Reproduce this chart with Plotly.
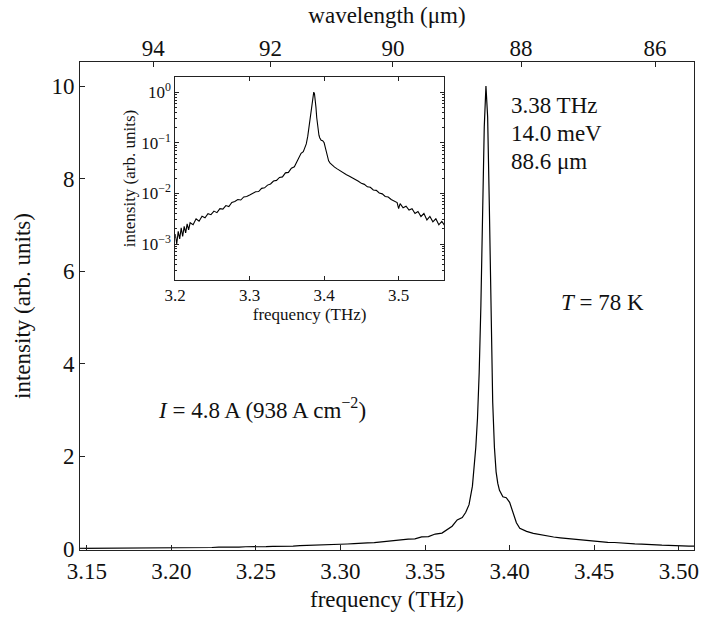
import plotly.graph_objects as go

# ---------------- data ----------------
freq = [
    3.146, 3.150, 3.154, 3.158, 3.162, 3.166, 3.170, 3.174, 3.178, 3.182,
    3.186, 3.190, 3.194, 3.198, 3.200, 3.202, 3.204, 3.206, 3.208, 3.210,
    3.212, 3.214, 3.216, 3.218, 3.220, 3.224, 3.228, 3.232, 3.236, 3.240,
    3.244, 3.248, 3.252, 3.256, 3.260, 3.264, 3.268, 3.272, 3.276, 3.280,
    3.284, 3.288, 3.292, 3.296, 3.300, 3.304, 3.308, 3.312, 3.316, 3.320,
    3.324, 3.328, 3.332, 3.336, 3.340, 3.344, 3.348, 3.352, 3.356, 3.360,
    3.363, 3.366, 3.369, 3.372, 3.374, 3.376, 3.378, 3.380, 3.381, 3.382,
    3.383, 3.384, 3.385, 3.386, 3.387, 3.388, 3.389, 3.390, 3.391, 3.392,
    3.393, 3.394, 3.396, 3.398, 3.400, 3.402, 3.404, 3.406, 3.408, 3.410,
    3.414, 3.418, 3.422, 3.426, 3.430, 3.434, 3.438, 3.442, 3.446, 3.450,
    3.454, 3.458, 3.462, 3.466, 3.470, 3.474, 3.478, 3.482, 3.486, 3.490,
    3.494, 3.498, 3.500, 3.502, 3.506, 3.510, 3.514, 3.518, 3.522, 3.526,
    3.530, 3.534, 3.538, 3.542, 3.546, 3.550, 3.554, 3.558, 3.562,
]
intensity = [
    0.0045, 0.0050, 0.0063, 0.0056, 0.0071, 0.0066, 0.0079, 0.0076, 0.0089, 0.0083,
    0.0105, 0.0095, 0.0120, 0.0112, 0.0158, 0.0100, 0.0178, 0.0126, 0.0209, 0.0141,
    0.0224, 0.0166, 0.0251, 0.0191, 0.0263, 0.0240, 0.0316, 0.0282, 0.0355, 0.0331,
    0.0398, 0.0380, 0.0447, 0.0417, 0.0501, 0.0490, 0.0575, 0.0550, 0.0661, 0.0692,
    0.0759, 0.0741, 0.0851, 0.0871, 0.0933, 0.100, 0.108, 0.109, 0.126, 0.129,
    0.146, 0.154, 0.176, 0.181, 0.207, 0.212, 0.255, 0.260, 0.315, 0.335,
    0.415, 0.485, 0.620, 0.670, 0.780, 0.950, 1.35, 2.19, 2.82, 3.80,
    5.25, 7.24, 9.12, 10.0, 9.33, 7.41, 5.01, 3.16, 2.19, 1.66,
    1.41, 1.26, 1.12, 1.10, 1.00, 0.760, 0.560, 0.440, 0.398, 0.372,
    0.331, 0.302, 0.275, 0.251, 0.234, 0.219, 0.204, 0.186, 0.174, 0.158,
    0.151, 0.135, 0.132, 0.117, 0.115, 0.102, 0.098, 0.087, 0.085, 0.076,
    0.072, 0.066, 0.050, 0.063, 0.052, 0.056, 0.047, 0.050, 0.040, 0.044,
    0.035, 0.040, 0.030, 0.035, 0.0275, 0.0316, 0.024, 0.028, 0.023,
]

main_xticks = [3.15, 3.20, 3.25, 3.30, 3.35, 3.40, 3.45, 3.50]
main_yticks = [0, 2, 4, 6, 8, 10]
wavelength_ticks = [94, 92, 90, 88, 86]           # micrometres
inset_xticks = [3.2, 3.3, 3.4, 3.5]
inset_yticks = [1e-3, 1e-2, 1e-1, 1]
inset_yticktext = ["10<sup>\u22123</sup>", "10<sup>\u22122</sup>",
                   "10<sup>\u22121</sup>", "10<sup>0</sup>"]

C_UM_THZ = 299.792458  # speed of light in um*THz
peak = max(intensity)
inset_intensity = [v / peak for v in intensity]

FONT = "Liberation Serif, Times New Roman, Times, serif"
AX = "#222222"
BIG = 23
SMALL = 17

fig = go.Figure()
fig.add_trace(go.Scatter(x=freq, y=intensity, mode="lines",
                         line=dict(color="black", width=1.2),
                         xaxis="x", yaxis="y", showlegend=False, hoverinfo="skip"))
# invisible trace so the top wavelength axis is drawn
fig.add_trace(go.Scatter(x=[freq[0]], y=[intensity[0]], mode="lines",
                         line=dict(color="rgba(0,0,0,0)"),
                         xaxis="x3", yaxis="y", showlegend=False, hoverinfo="skip"))
fig.add_trace(go.Scatter(x=freq, y=inset_intensity, mode="lines",
                         line=dict(color="black", width=1.1),
                         xaxis="x2", yaxis="y2", showlegend=False, hoverinfo="skip"))

common = dict(showgrid=False, zeroline=False, showline=True, linecolor=AX,
              linewidth=1, tickcolor=AX, ticks="inside")

fig.update_layout(
    width=706, height=620,
    margin=dict(l=80, r=7, t=62, b=70),
    paper_bgcolor="white", plot_bgcolor="white",
    font=dict(family=FONT, color="#111111", size=BIG),
    xaxis=dict(**common, domain=[0, 1], anchor="y", range=[3.146, 3.509],
               tickmode="array", tickvals=main_xticks,
               ticktext=[f"{t:.2f}" for t in main_xticks],
               ticklen=5, mirror=True,
               tickfont=dict(size=BIG, family=FONT),
               title=dict(text="frequency (THz)", font=dict(size=BIG, family=FONT),
                          standoff=8)),
    yaxis=dict(**common, domain=[0, 1], anchor="x", range=[-0.03, 10.52],
               tickmode="array", tickvals=main_yticks,
               ticktext=[str(t) for t in main_yticks],
               ticklen=5, mirror=True,
               tickfont=dict(size=BIG, family=FONT),
               title=dict(text="intensity (arb. units)", font=dict(size=BIG, family=FONT),
                          standoff=14)),
    xaxis3=dict(showgrid=False, zeroline=False, showline=False,
                overlaying="x", side="top", anchor="y", range=[3.146, 3.509],
                tickmode="array",
                tickvals=[C_UM_THZ / w for w in wavelength_ticks],
                ticktext=[str(w) for w in wavelength_ticks],
                ticks="inside", ticklen=5, tickcolor=AX,
                tickfont=dict(size=BIG, family=FONT),
                title=dict(text="wavelength (\u03bcm)", font=dict(size=BIG, family=FONT),
                           standoff=6)),
    xaxis2=dict(**common, domain=[0.1551, 0.5929], anchor="y2", range=[3.2, 3.561],
                tickmode="array", tickvals=inset_xticks,
                ticktext=[f"{t:.1f}" for t in inset_xticks],
                ticklen=4, mirror="ticks",
                tickfont=dict(size=SMALL, family=FONT),
                title=dict(text="frequency (THz)", font=dict(size=SMALL, family=FONT),
                           standoff=2)),
    yaxis2=dict(**common, domain=[0.5533, 0.9693], anchor="x2", type="log",
                range=[-3.71, 0.30],
                tickmode="array", tickvals=inset_yticks, ticktext=inset_yticktext,
                ticklen=4, mirror="ticks",
                minor=dict(ticks="inside", ticklen=2, tickcolor=AX, showgrid=False,
                           tickmode="array",
                           tickvals=[m * 10 ** e for e in range(-4, 1) for m in range(2, 10)]),
                tickfont=dict(size=SMALL, family=FONT),
                title=dict(text="intensity (arb. units)", font=dict(size=SMALL, family=FONT),
                           standoff=1)),
)

ann = dict(xref="paper", yref="paper", showarrow=False, xanchor="left",
           yanchor="middle", font=dict(family=FONT, size=BIG, color="#111111"))
fig.add_annotation(**ann, x=0.6995, y=0.910, text="3.38 THz")
fig.add_annotation(**ann, x=0.6995, y=0.854, text="14.0 meV")
fig.add_annotation(**ann, x=0.6995, y=0.797, text="88.6 \u03bcm")
fig.add_annotation(**ann, x=0.780, y=0.508, text="<i>T</i> = 78 K")
fig.add_annotation(**ann, x=0.124, y=0.290,
                   text="<i>I</i> = 4.8 A (938 A cm<sup>\u22122</sup>)")

fig.write_html("out.html")
